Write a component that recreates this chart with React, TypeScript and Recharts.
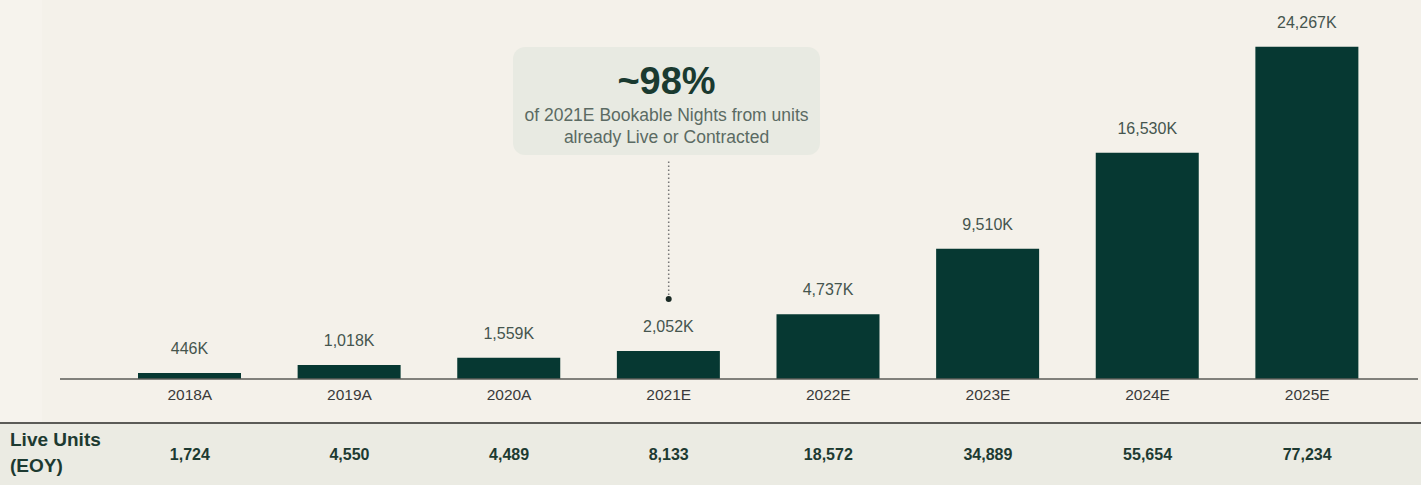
import { Bar, BarChart, LabelList, ReferenceDot, ReferenceLine, XAxis, YAxis } from "recharts";

const years = ["2018A", "2019A", "2020A", "2021E", "2022E", "2023E", "2024E", "2025E"];
const bookableNights = [446, 1018, 1559, 2052, 4737, 9510, 16530, 24267];
const liveUnits = [1724, 4550, 4489, 8133, 18572, 34889, 55654, 77234];

const data = years.map((year, i) => ({
  year,
  nights: bookableNights[i],
  units: liveUnits[i],
}));

const fmt = (v: number) => v.toLocaleString("en-US");

const font = "'Liberation Sans', Arial, sans-serif";
const barColor = "#063832";

const UnitTick = (props: any) => {
  const { x, y, payload } = props;
  return (
    <text
      x={x}
      y={y + 29}
      textAnchor="middle"
      fontFamily={font}
      fontSize={16}
      fontWeight={700}
      fill="#1d3a31"
    >
      {fmt(payload.value)}
    </text>
  );
};

export default function App() {
  return (
    <div
      style={{
        position: "relative",
        width: 1421,
        height: 485,
        background: "#f4f1ea",
        fontFamily: font,
        overflow: "hidden",
      }}
    >
      <style>{`body{margin:0}`}</style>
      <div style={{ position: "absolute", left: 0, top: 0, width: 42, height: 423, background: "#f6f3ed" }} />
      {/* table strip */}
      <div
        style={{
          position: "absolute",
          left: 0,
          top: 422,
          width: 1421,
          height: 63,
          background: "#ebebe3",
          borderTop: "2px solid #5b5b57",
        }}
      />
      <div
        style={{
          position: "absolute",
          left: 10,
          top: 427,
          fontSize: 19,
          fontWeight: 700,
          lineHeight: "26px",
          color: "#1d3a31",
        }}
      >
        Live Units
        <br />
        (EOY)
      </div>
      {/* callout */}
      <div
        style={{
          position: "absolute",
          left: 513,
          top: 47,
          width: 307,
          height: 108,
          borderRadius: 12,
          background: "#e8eae2",
          textAlign: "center",
        }}
      >
        <div style={{ marginTop: 12, fontSize: 38, fontWeight: 700, color: "#1a3a30", lineHeight: "44px" }}>~98%</div>
        <div style={{ marginTop: 1, fontSize: 17.5, color: "#5b6a63", lineHeight: "22px" }}>
          of 2021E Bookable Nights from units
          <br />
          already Live or Contracted
        </div>
      </div>
      <div style={{ position: "absolute", left: 0, top: 0 }}>
        <BarChart
          width={1421}
          height={485}
          data={data}
          margin={{ top: 23, right: 3, left: 60, bottom: 0 }}
        >
          <YAxis hide domain={[0, 26000]} />
          <XAxis
            dataKey="year"
            height={44}
            padding={{ left: 50, right: 31 }}
            axisLine={{ stroke: "#5b5b57", strokeWidth: 1.5 }}
            tickLine={false}
            tickMargin={4}
            tick={{ fill: "#3a3a3a", fontSize: 15.5, fontFamily: font }}
          />
          <XAxis
            xAxisId="units"
            dataKey="units"
            height={62}
            padding={{ left: 50, right: 31 }}
            axisLine={false}
            tickLine={false}
            tick={<UnitTick />}
          />
          <ReferenceLine
            segment={[
              { x: "2021E", y: 5850 },
              { x: "2021E", y: 16000 },
            ]}
            stroke="#777"
            strokeWidth={1.5}
            strokeDasharray="1.5 2.5"
          />
          <ReferenceDot x="2021E" y={5850} r={3} fill="#1a2a25" stroke="none" />
          <Bar dataKey="nights" fill={barColor} barSize={103} isAnimationActive={false}>
            <LabelList
              dataKey="nights"
              position="top"
              offset={19}
              formatter={(v: any) => `${fmt(v)}K`}
              style={{ fill: "#45554e", fontSize: 16, fontFamily: font }}
            />
          </Bar>
        </BarChart>
      </div>
    </div>
  );
}
